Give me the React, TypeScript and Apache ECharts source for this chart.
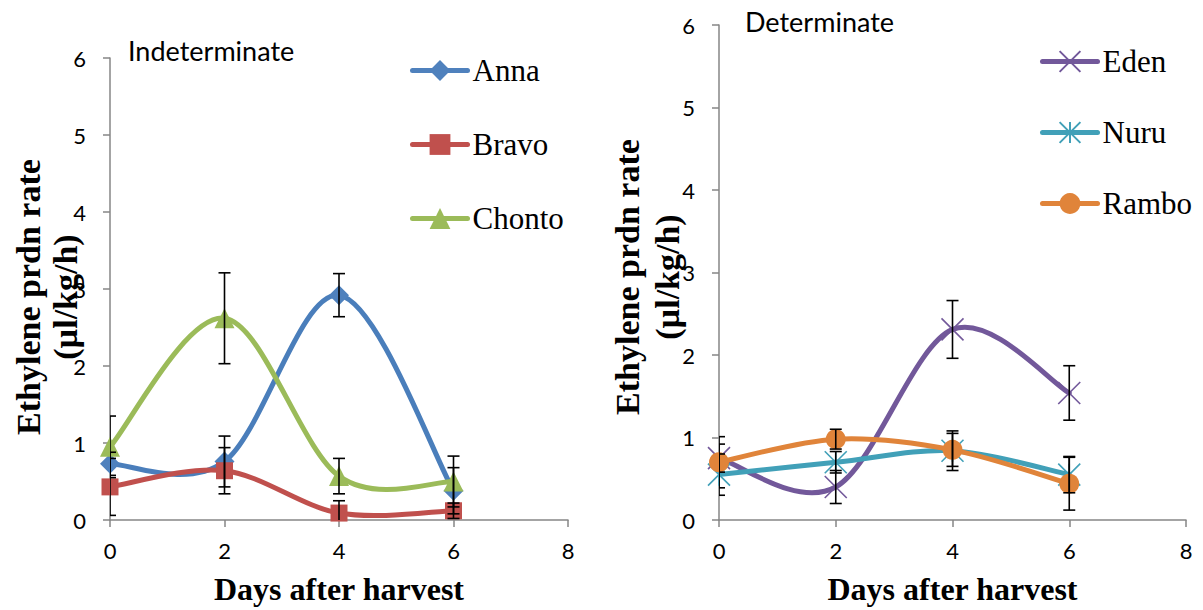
import React, { useEffect, useRef } from "react";
import * as echarts from "echarts";

const days = [0, 2, 4, 6];
const xTicks = [0, 2, 4, 6, 8];

const anna = [0.73, 0.76, 2.92, 0.38];
const annaErr = [0.15, 0.33, 0.28, 0.3];
const bravo = [0.43, 0.64, 0.09, 0.12];
const bravoErr = [0.37, 0.3, 0.16, 0.1];
const chonto = [0.95, 2.62, 0.57, 0.5];
const chontoErr = [0.4, 0.59, 0.23, 0.33];

const eden = [0.75, 0.4, 2.31, 1.54];
const edenErr = [0.17, 0.2, 0.35, 0.33];
const nuru = [0.55, 0.7, 0.84, 0.55];
const nuruErr = [0.25, 0.13, 0.24, 0.22];
const rambo = [0.7, 0.98, 0.85, 0.44];
const ramboErr = [0.31, 0.12, 0.2, 0.32];

const X_PATH = "path://M0,0 L20,20 M20,0 L0,20";
const STAR_PATH = "path://M0,0 L20,20 M20,0 L0,20 M10,0 L10,20";

const SERIF = "'Liberation Serif', 'Times New Roman', serif";
const SANS = "Lato, 'Open Sans', sans-serif";

function pts(vals: number[]) {
  return days.map((d, i) => [d, vals[i]]);
}
function errs(vals: number[], e: number[]) {
  return days.map((d, i) => [d, vals[i] - e[i], vals[i] + e[i]]);
}

function errorSeries(vals: number[], e: number[], gi: number) {
  return {
    type: "custom",
    xAxisIndex: gi,
    yAxisIndex: gi,
    clip: true,
    z: 10,
    silent: true,
    encode: { x: 0, y: [1, 2] },
    data: errs(vals, e),
    renderItem: (params: any, api: any) => {
      const x = api.value(0);
      const lo = api.coord([x, api.value(1)]);
      const hi = api.coord([x, api.value(2)]);
      const w = 6;
      const style = { stroke: "#000", lineWidth: 1.6 };
      return {
        type: "group",
        children: [
          { type: "line", shape: { x1: lo[0], y1: lo[1], x2: hi[0], y2: hi[1] }, style },
          { type: "line", shape: { x1: hi[0] - w, y1: hi[1], x2: hi[0] + w, y2: hi[1] }, style },
          { type: "line", shape: { x1: lo[0] - w, y1: lo[1], x2: lo[0] + w, y2: lo[1] }, style },
        ],
      };
    },
  };
}

// Smoothed curve (Catmull-Rom style, as in spreadsheet "smoothed line") drawn through the data points
function curveSeries(vals: number[], color: string, gi: number, z: number) {
  return {
    type: "custom",
    xAxisIndex: gi,
    yAxisIndex: gi,
    clip: true,
    z,
    silent: true,
    encode: { x: 0, y: 1 },
    data: pts(vals),
    renderItem: (params: any, api: any) => {
      const i = params.dataIndex;
      const n = days.length;
      if (i >= n - 1) return { type: "group", children: [] };
      const P = (k: number) => {
        const kk = Math.max(0, Math.min(n - 1, k));
        return api.coord([days[kk], vals[kk]]);
      };
      const p0 = P(i - 1);
      const p1 = P(i);
      const p2 = P(i + 1);
      const p3 = P(i + 2);
      const cp1 = [p1[0] + (p2[0] - p0[0]) / 6, p1[1] + (p2[1] - p0[1]) / 6];
      const cp2 = [p2[0] - (p3[0] - p1[0]) / 6, p2[1] - (p3[1] - p1[1]) / 6];
      return {
        type: "bezierCurve",
        shape: {
          x1: p1[0],
          y1: p1[1],
          x2: p2[0],
          y2: p2[1],
          cpx1: cp1[0],
          cpy1: cp1[1],
          cpx2: cp2[0],
          cpy2: cp2[1],
        },
        style: { stroke: color, lineWidth: 5, fill: "none", lineCap: "round" },
      };
    },
  };
}

function markerSeries(
  name: string,
  vals: number[],
  color: string,
  symbol: string,
  size: number,
  gi: number,
  z: number,
  stroked = false
) {
  return {
    type: "line",
    name,
    xAxisIndex: gi,
    yAxisIndex: gi,
    data: pts(vals),
    symbol,
    symbolSize: size,
    showAllSymbol: true,
    z,
    lineStyle: { color, width: 5, opacity: 0 },
    itemStyle: stroked
      ? { color, borderColor: color, borderWidth: 1.6 }
      : { color, borderWidth: 0 },
  };
}

export default function App() {
  const ref = useRef<HTMLDivElement>(null);
  useEffect(() => {
    if (!ref.current) return;
    const chart = echarts.init(ref.current, undefined, { renderer: "svg" });
    const axisLine = { show: true, lineStyle: { color: "#868686", width: 1.5 } };
    const axisTick = { show: true, length: 7, lineStyle: { color: "#868686", width: 1.5 } };
    const label = { color: "#000", fontFamily: SANS, fontSize: 22 };
    const xAxis = (gi: number) => ({
      type: "value",
      gridIndex: gi,
      min: 0,
      max: 8,
      interval: 2,
      axisLine,
      axisTick,
      splitLine: { show: false },
      axisLabel: { ...label, margin: 19, formatter: (v: number) => (xTicks.includes(v) ? String(v) : "") },
      name: "Days after harvest",
      nameLocation: "middle",
      nameGap: 53,
      nameTextStyle: { fontFamily: SERIF, fontWeight: "bold", fontSize: 32, color: "#000" },
    });
    const yAxis = (gi: number) => ({
      type: "value",
      gridIndex: gi,
      min: 0,
      max: 6,
      interval: 1,
      axisLine,
      axisTick,
      splitLine: { show: false },
      axisLabel: { ...label, margin: 24 },
    });
    const legendText = { fontFamily: SERIF, fontSize: 31, color: "#000", lineHeight: 31 };
    const legendLine = { width: 5, opacity: 1, cap: "round" };
    const yName = (text: string, x: number, y: number) => ({
      type: "text",
      x,
      y,
      rotation: Math.PI / 2,
      style: {
        text,
        fontFamily: SERIF,
        fontWeight: "bold",
        fontSize: 34,
        fill: "#000",
        align: "center",
        verticalAlign: "middle",
      },
    });
    const option: any = {
      animation: false,
      grid: [
        { left: 110, top: 58, width: 458, height: 468 },
        { left: 719, top: 25, width: 467, height: 504 },
      ],
      xAxis: [xAxis(0), xAxis(1)],
      yAxis: [yAxis(0), yAxis(1)],
      legend: [
        {
          data: ["Anna", "Bravo", "Chonto"],
          orient: "vertical",
          left: 410,
          top: 55,
          padding: 0,
          itemWidth: 55,
          itemHeight: 26,
          itemGap: 43,
          textStyle: legendText,
          lineStyle: legendLine,
        },
        {
          data: ["Eden", "Nuru", "Rambo"],
          orient: "vertical",
          left: 1040,
          top: 46,
          padding: 0,
          itemWidth: 55,
          itemHeight: 26,
          itemGap: 40,
          textStyle: legendText,
          lineStyle: legendLine,
        },
      ],
      graphic: [
        {
          type: "text",
          left: 128,
          top: 37,
          style: { text: "Indeterminate", fontFamily: SANS, fontSize: 27, fill: "#000" },
        },
        {
          type: "text",
          left: 745,
          top: 8,
          style: { text: "Determinate", fontFamily: SANS, fontSize: 27, fill: "#000" },
        },
        yName("Ethylene prdn rate", 28, 297),
        yName("(µl/kg/h)", 65, 297),
        yName("Ethylene prdn rate", 627, 277),
        yName("(µl/kg/h)", 667, 277),
      ],
      series: [
        curveSeries(anna, "#4A7EBB", 0, 2),
        markerSeries("Anna", anna, "#4F81BD", "diamond", 20, 0, 3),
        curveSeries(bravo, "#C0504D", 0, 4),
        markerSeries("Bravo", bravo, "#C0504D", "rect", 17, 0, 5),
        curveSeries(chonto, "#9BBB59", 0, 6),
        markerSeries("Chonto", chonto, "#9BBB59", "triangle", 20, 0, 7),
        errorSeries(anna, annaErr, 0),
        errorSeries(bravo, bravoErr, 0),
        errorSeries(chonto, chontoErr, 0),
        curveSeries(eden, "#72589A", 1, 2),
        markerSeries("Eden", eden, "#72589A", X_PATH, 22, 1, 3, true),
        curveSeries(nuru, "#41A0B8", 1, 4),
        markerSeries("Nuru", nuru, "#41A0B8", STAR_PATH, 22, 1, 5, true),
        curveSeries(rambo, "#E0843A", 1, 6),
        markerSeries("Rambo", rambo, "#E0843A", "circle", 20, 1, 7),
        errorSeries(eden, edenErr, 1),
        errorSeries(nuru, nuruErr, 1),
        errorSeries(rambo, ramboErr, 1),
      ],
    };
    chart.setOption(option);
    return () => chart.dispose();
  }, []);
  return <div ref={ref} style={{ width: 1203, height: 610, position: "absolute", left: 0, top: 0 }} />;
}
